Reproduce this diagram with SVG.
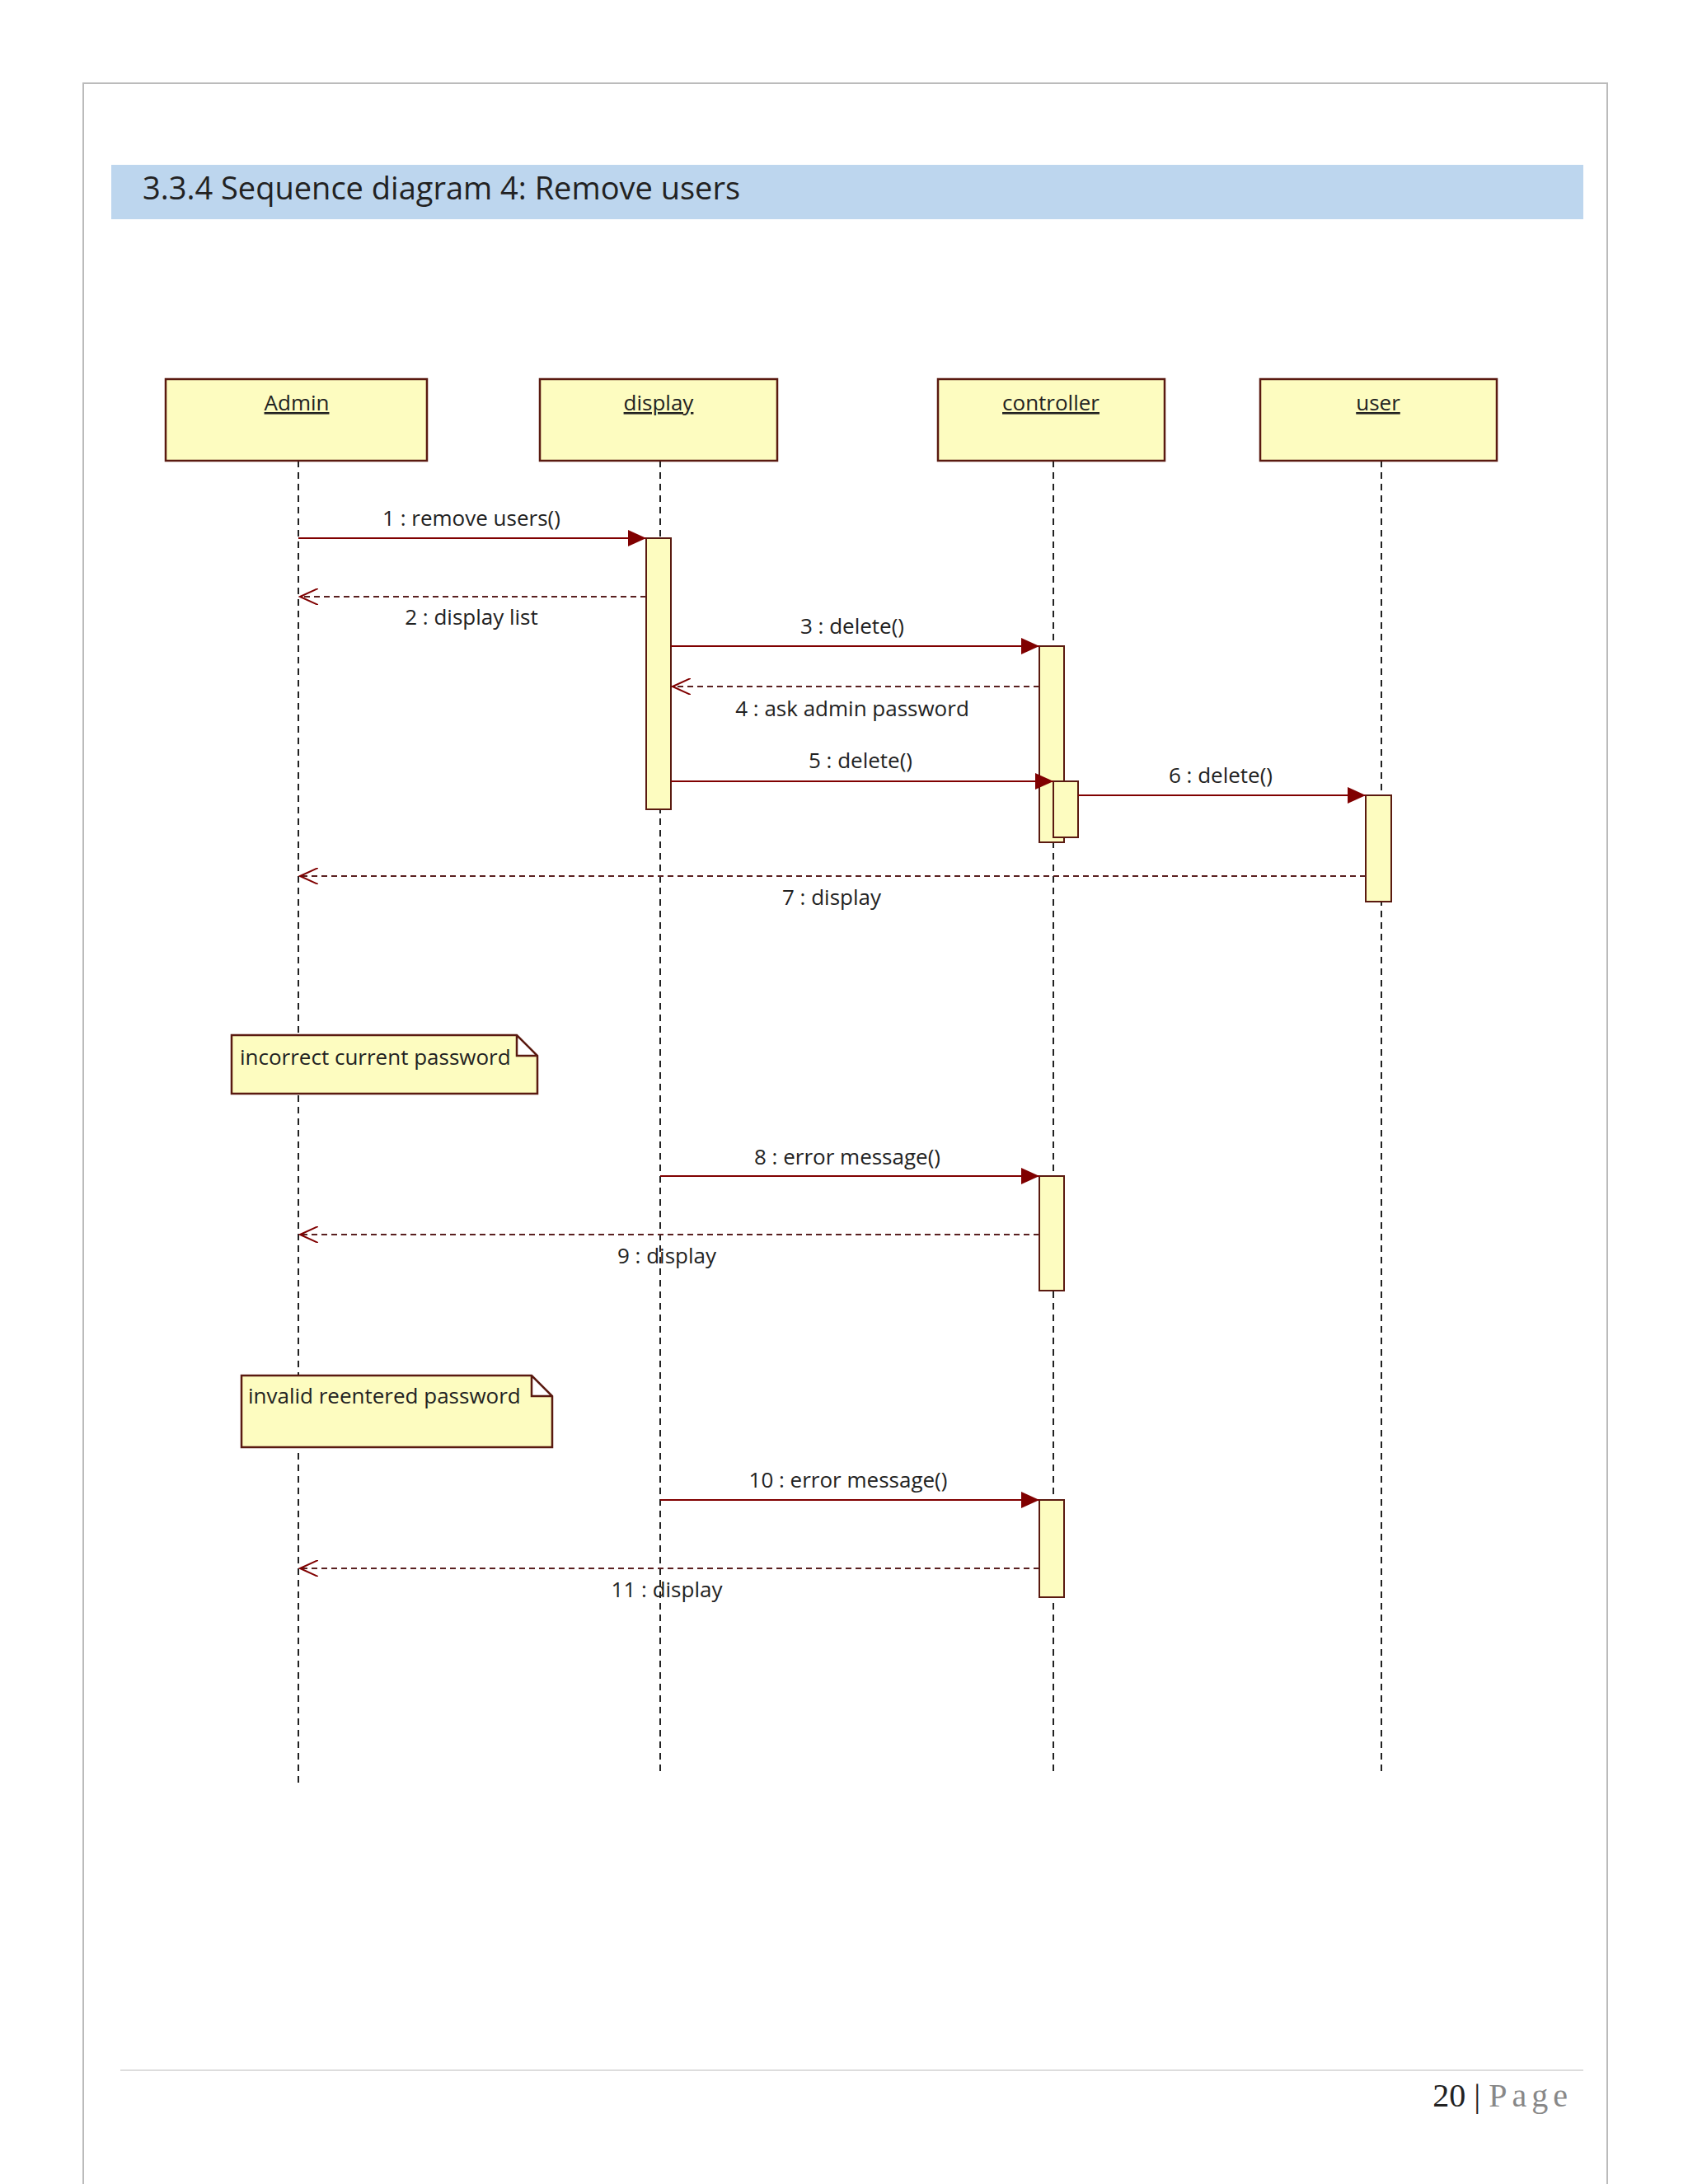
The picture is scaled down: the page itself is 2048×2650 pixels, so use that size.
<svg xmlns="http://www.w3.org/2000/svg" width="2048" height="2650" viewBox="0 0 2048 2650">
<style>
.box{fill:#fdfcc0;stroke:#5a1a10;stroke-width:2.5}
.act{fill:#fdfcc0;stroke:#5a1a10;stroke-width:2}
.ll{stroke:#222;stroke-width:2;stroke-dasharray:8,6}
.msg{stroke:#800000;stroke-width:2;fill:none}
.ret{stroke:#5a2020;stroke-width:2;fill:none;stroke-dasharray:7,5}
.t{font-family:"Segoe UI","Open Sans","Liberation Sans",sans-serif;font-size:26px;fill:#222}
.n{text-anchor:middle;text-decoration:underline}
.m{text-anchor:middle}
</style>
<defs>
<marker id="fa" markerWidth="24" markerHeight="20" refX="22" refY="10" orient="auto" markerUnits="userSpaceOnUse"><path d="M0,0 L22,10 L0,20 Z" fill="#800000"/></marker>
<marker id="oa" markerWidth="24" markerHeight="20" refX="22" refY="10" orient="auto" markerUnits="userSpaceOnUse"><path d="M0,0 L22,10 L0,20" fill="none" stroke="#800000" stroke-width="2"/></marker>
</defs>
<rect width="2048" height="2650" fill="#fff"/>
<path d="M101,2650 V101 H1950 V2650" fill="none" stroke="#bbb" stroke-width="2"/>
<rect x="135" y="200" width="1786" height="66" fill="#bdd6ee"/>
<text x="173" y="242" font-family="'Segoe UI','Open Sans','Liberation Sans',sans-serif" font-size="38" fill="#222">3.3.4 Sequence diagram 4: Remove users</text>
<g id="lifelines">
<line class="ll" x1="362" y1="559" x2="362" y2="2167"/>
<line class="ll" x1="801" y1="559" x2="801" y2="2153"/>
<line class="ll" x1="1278" y1="559" x2="1278" y2="2153"/>
<line class="ll" x1="1676" y1="559" x2="1676" y2="2153"/>
</g>
<g id="admin"><rect class="box" x="201" y="460" width="317" height="99"/><text class="t n" x="360" y="498">Admin</text></g>
<g id="display"><rect class="box" x="655" y="460" width="288" height="99"/><text class="t n" x="799" y="498">display</text></g>
<g id="controller"><rect class="box" x="1138" y="460" width="275" height="99"/><text class="t n" x="1275" y="498">controller</text></g>
<g id="user"><rect class="box" x="1529" y="460" width="287" height="99"/><text class="t n" x="1672" y="498">user</text></g>
<g id="activations">
<rect class="act" x="784" y="653" width="30" height="329"/>
<rect class="act" x="1261" y="784" width="30" height="238"/>
<rect class="act" x="1278" y="948" width="30" height="68"/>
<rect class="act" x="1657" y="965" width="31" height="129"/>
<rect class="act" x="1261" y="1427" width="30" height="139"/>
<rect class="act" x="1261" y="1820" width="30" height="118"/>
</g>
<g id="notes">
<path class="box" d="M281,1256 H627 L652,1281 V1327 H281 Z M627,1256 V1281 H652" stroke-width="2"/>
<text class="t" x="291" y="1292" font-size="25">incorrect current password</text>
<path class="box" d="M293,1669 H645 L670,1694 V1756 H293 Z M645,1669 V1694 H670" stroke-width="2"/>
<text class="t" x="301" y="1703" font-size="25">invalid reentered password</text>
</g>
<g id="connectors">
<line class="msg" x1="362" y1="653" x2="784" y2="653" marker-end="url(#fa)"/>
<line class="ret" x1="784" y1="724" x2="364" y2="724" marker-end="url(#oa)"/>
<line class="msg" x1="814" y1="784" x2="1261" y2="784" marker-end="url(#fa)"/>
<line class="ret" x1="1261" y1="833" x2="816" y2="833" marker-end="url(#oa)"/>
<line class="msg" x1="814" y1="948" x2="1278" y2="948" marker-end="url(#fa)"/>
<line class="msg" x1="1308" y1="965" x2="1657" y2="965" marker-end="url(#fa)"/>
<line class="ret" x1="1657" y1="1063" x2="364" y2="1063" marker-end="url(#oa)"/>
<line class="msg" x1="801" y1="1427" x2="1261" y2="1427" marker-end="url(#fa)"/>
<line class="ret" x1="1261" y1="1498" x2="364" y2="1498" marker-end="url(#oa)"/>
<line class="msg" x1="801" y1="1820" x2="1261" y2="1820" marker-end="url(#fa)"/>
<line class="ret" x1="1261" y1="1903" x2="364" y2="1903" marker-end="url(#oa)"/>
<text class="t m" x="572" y="638">1 : remove users()</text>
<text class="t m" x="572" y="758">2 : display list</text>
<text class="t m" x="1034" y="769">3 : delete()</text>
<text class="t m" x="1034" y="869">4 : ask admin password</text>
<text class="t m" x="1044" y="932">5 : delete()</text>
<text class="t m" x="1481" y="950">6 : delete()</text>
<text class="t m" x="1009" y="1098">7 : display</text>
<text class="t m" x="1028" y="1413">8 : error message()</text>
<text class="t m" x="809" y="1533">9 : display</text>
<text class="t m" x="1029" y="1805">10 : error message()</text>
<text class="t m" x="809" y="1938">11 : display</text>
</g>
<line x1="146" y1="2512" x2="1921" y2="2512" stroke="#ddd" stroke-width="2"/>
<text x="1908" y="2556" text-anchor="end" font-family="'Liberation Serif',serif" font-size="40" fill="#222">20 | <tspan fill="#888" letter-spacing="6">Page</tspan></text>
</svg>
